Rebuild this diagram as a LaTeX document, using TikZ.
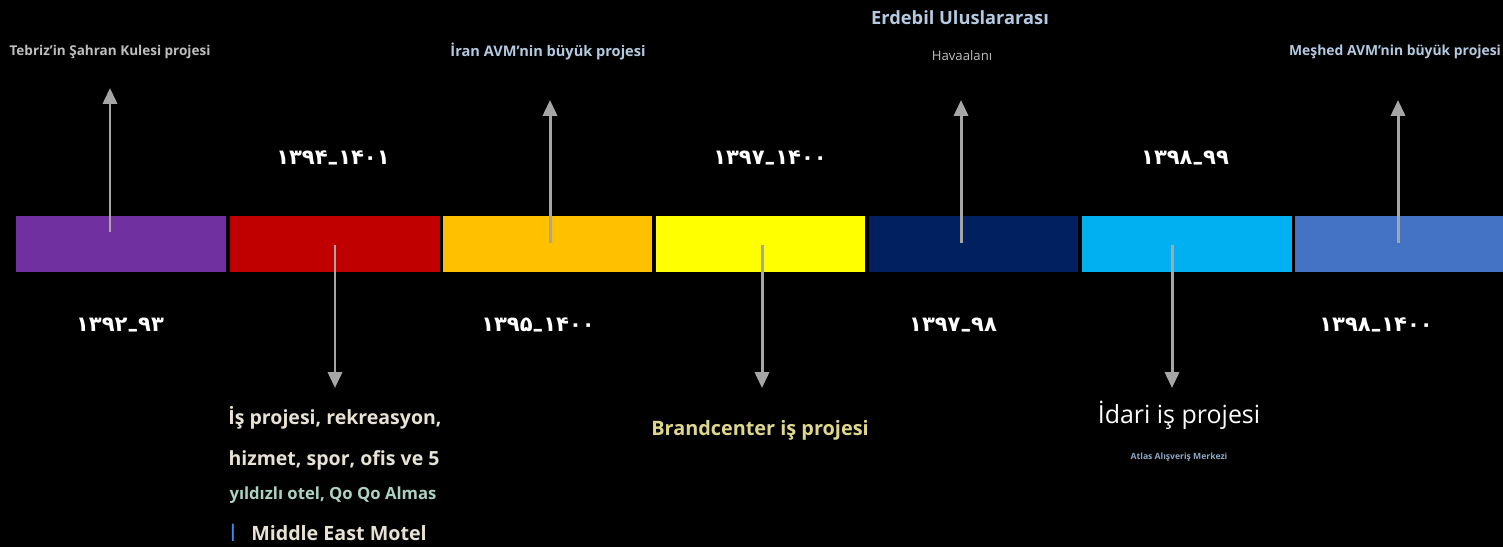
\documentclass[tikz,border=0pt]{standalone}
\usepackage{fontspec}
\setmainfont{Open Sans}
\newfontfamily\farsifont{DejaVu Sans}
\usetikzlibrary{arrows.meta, positioning}
\definecolor{segpurple}{RGB}{112, 48, 160}
\definecolor{segred}{RGB}{192, 0, 0}
\definecolor{segorange}{RGB}{255, 192, 0}
\definecolor{segyellow}{RGB}{255, 255, 0}
\definecolor{segnavy}{RGB}{0, 32, 96}
\definecolor{segcyan}{RGB}{0, 176, 240}
\definecolor{segblue}{RGB}{68, 114, 196}
\definecolor{arrowgray}{RGB}{166, 166, 166}
\definecolor{labelgray}{RGB}{190, 190, 190}
\definecolor{labelblue}{RGB}{180, 202, 224}
\definecolor{labelcream}{RGB}{232, 226, 212}
\definecolor{labelteal}{RGB}{172, 210, 194}
\definecolor{labelkhaki}{RGB}{222, 214, 140}
\definecolor{labelsteel}{RGB}{140, 168, 196}
\definecolor{markblue}{RGB}{60, 140, 230}

% a year span, kept left to right
\newcommand{\yearspan}[2]{\hbox{#1}\hbox{\raisebox{-0.22em}{–}}\hbox{#2}}

\tikzset{
  seg/.style={minimum width=4.2cm, minimum height=1.12cm, inner sep=0pt},
  yearlabel/.style={text=white, font=\farsifont\bfseries\fontsize{12}{14}\selectfont},
  marker/.style={draw=arrowgray, line width=1.7pt, -{Triangle[width=8pt, length=9pt]}},
  caption/.style={inner sep=0pt, align=center}
}

\begin{document}
\begin{tikzpicture}[x=0.02cm, y=-0.02cm]
  \fill[black] (0,0) rectangle (1503,547);
  \useasboundingbox (0,0) rectangle (1503,547);

  % The timeline bar
  \node[seg, fill=segpurple] (seg1) at (121,244) {};
  \node[seg, fill=segred] (seg2) at (335,244) {};
  \node[seg, fill=segorange] (seg3) at (547.5,244) {};
  \node[seg, fill=segyellow] (seg4) at (760.5,244) {};
  \node[seg, fill=segnavy] (seg5) at (973.5,244) {};
  \node[seg, fill=segcyan] (seg6) at (1186.5,244) {};
  \node[seg, fill=segblue] (seg7) at (1399.5,244) {};

  % Years
  \node[yearlabel] (year1) at (120,327) {\yearspan{۱۳۹۲}{۹۳}};
  \node[yearlabel] (year2) at (333,160) {\yearspan{۱۳۹۴}{۱۴۰۱}};
  \node[yearlabel] (year3) at (538,327) {\yearspan{۱۳۹۵}{۱۴۰۰}};
  \node[yearlabel] (year4) at (770,160) {\yearspan{۱۳۹۷}{۱۴۰۰}};
  \node[yearlabel] (year5) at (953,327) {\yearspan{۱۳۹۷}{۹۸}};
  \node[yearlabel] (year6) at (1185,160) {\yearspan{۱۳۹۸}{۹۹}};
  \node[yearlabel] (year7) at (1376,327) {\yearspan{۱۳۹۸}{۱۴۰۰}};

  % Projects above the bar
  \node[caption, text=labelgray, font=\bfseries\fontsize{7.7}{9}\selectfont] (proj1) at (110,52) {Tebriz'in Şahran Kulesi projesi};
  \node[caption, text=labelblue, font=\bfseries\fontsize{8.3}{10}\selectfont] (proj3) at (548,52) {İran AVM'nin büyük projesi};
  \node[caption, text=labelblue, font=\bfseries\fontsize{10.4}{12}\selectfont] (proj5) at (960,18) {Erdebil Uluslararası};
  \node[caption, text=labelgray, font=\fontsize{7.5}{9}\selectfont] (proj5b) at (962,56) {Havaalanı};
  \node[caption, text=labelblue, font=\bfseries\fontsize{7.9}{9}\selectfont] (proj7) at (1395,52) {Meşhed AVM'nin büyük projesi};

  % Projects below the bar
  \node[caption, text=labelcream, font=\bfseries\fontsize{11.1}{13}\selectfont] (proj2) at (335,418) {İş projesi, rekreasyon,};
  \node[caption, text=labelcream, font=\bfseries\fontsize{11.1}{13}\selectfont] (proj2b) at (334,460) {hizmet, spor, ofis ve 5};
  \node[caption, text=labelteal, font=\bfseries\fontsize{9.5}{11}\selectfont] (proj2c) at (333,495) {yıldızlı otel, Qo Qo Almas};
  \node[caption, text=markblue, font=\bfseries\fontsize{10}{12}\selectfont] (mark2) at (233,533) {|};
  \node[caption, text=labelcream, font=\bfseries\fontsize{11.2}{13}\selectfont] (proj2d) at (339,533) {Middle East Motel};
  \node[caption, text=labelkhaki, font=\bfseries\fontsize{11.3}{13}\selectfont] (proj4) at (760,430) {Brandcenter iş projesi};
  \node[caption, text=white, font=\fontsize{14.2}{16}\selectfont] (proj6) at (1179,415) {İdari iş projesi};
  \node[caption, text=labelsteel, font=\bfseries\fontsize{4.9}{6}\selectfont] (proj6b) at (1179,457) {Atlas Alışveriş Merkezi};

  % Arrows
  \coordinate (base1) at (110,232);
  \coordinate (tip1) at (110,88);
  \coordinate (base2) at (335,245);
  \coordinate (tip2) at (335,388);
  \coordinate (base3) at (550,243);
  \coordinate (tip3) at (550,100);
  \coordinate (base4) at (762,245);
  \coordinate (tip4) at (762,388);
  \coordinate (base5) at (961,243);
  \coordinate (tip5) at (961,100);
  \coordinate (base6) at (1172,245);
  \coordinate (tip6) at (1172,388);
  \coordinate (base7) at (1398,243);
  \coordinate (tip7) at (1398,100);
  \draw[marker] (base1) -- (tip1);
  \draw[marker] (base2) -- (tip2);
  \draw[marker] (base3) -- (tip3);
  \draw[marker] (base4) -- (tip4);
  \draw[marker] (base5) -- (tip5);
  \draw[marker] (base6) -- (tip6);
  \draw[marker] (base7) -- (tip7);
\end{tikzpicture}
\end{document}
